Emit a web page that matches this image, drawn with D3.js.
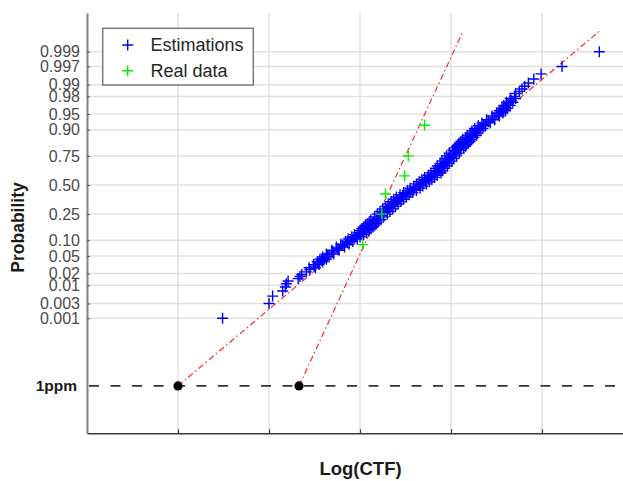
<!DOCTYPE html>
<html lang="en">
<head>
    <meta charset="UTF-8">
    <title>Normal probability plot</title>
    <style>
        body { margin: 0; background: #fff; }
        svg { display: block; font-family: "Liberation Sans", Arial, sans-serif; }

        .grid line { stroke: #e0e0e0; stroke-width: 1.5; }
        .grid-x line { stroke: #dadada; stroke-width: 1.2; }

        .axis-y path { stroke: #808080; stroke-width: 2; }
        .axis-y line { stroke: #555; }
        .axis-y text { fill: #4a4a4a; font-size: 16px; }
        .axis-x path { stroke: #3a3a3a; stroke-width: 1.5; }
        .axis-x line { stroke: #3a3a3a; stroke-width: 1.2; }

        .ppm { stroke: #333; stroke-width: 1.6; stroke-dasharray: 10 11.5; }
        .fit { fill: none; stroke: #ff2a2a; stroke-width: 1.2; stroke-dasharray: 6 3 1.5 3; }
        .plus { fill: none; stroke-width: 1.4; }
        .label { font-weight: bold; fill: #1a1a1a; }
    </style>
</head>
<body>
    <svg></svg>
<script src="https://d3js.org/d3.v7.min.js"></script>
<script>
    // estimations: log(CTF) values and their plotting probabilities (band centre and tails)
    var estLogCtf = [1.49, 2.00, 2.04, 2.15, 2.18, 2.19, 2.21, 2.32, 2.34, 2.36,
        2.41, 2.45, 2.50, 2.54, 2.58, 2.61, 2.64, 2.70, 2.76, 2.81,
        2.86, 2.90, 2.94, 2.97, 3.01, 3.04, 3.06, 3.08, 3.10, 3.12,
        3.14, 3.16, 3.19, 3.23, 3.26, 3.29, 3.32, 3.35, 3.38, 3.41,
        3.44, 3.47, 3.51, 3.55, 3.59, 3.62, 3.66, 3.69, 3.72, 3.75,
        3.78, 3.82, 3.85, 3.87, 3.89, 3.92, 3.94, 3.97, 3.99, 4.02,
        4.05, 4.08, 4.10, 4.12, 4.13, 4.15, 4.17, 4.19, 4.22, 4.24,
        4.26, 4.29, 4.32, 4.36, 4.41, 4.46, 4.52, 4.55, 4.58, 4.60,
        4.63, 4.66, 4.70, 4.71, 4.75, 4.78, 4.81, 4.85, 4.91, 4.99,
        5.22, 5.63];
    var estProb = [0.001, 0.003, 0.005, 0.007, 0.009, 0.011, 0.013, 0.015, 0.017, 0.019,
        0.022, 0.025, 0.03, 0.035, 0.04, 0.045, 0.05, 0.06, 0.07, 0.08,
        0.09, 0.10, 0.11, 0.12, 0.13, 0.14, 0.15, 0.16, 0.17, 0.18,
        0.19, 0.20, 0.22, 0.24, 0.26, 0.28, 0.30, 0.32, 0.34, 0.36,
        0.38, 0.40, 0.42, 0.44, 0.46, 0.48, 0.50, 0.52, 0.54, 0.56,
        0.58, 0.60, 0.62, 0.64, 0.66, 0.68, 0.70, 0.72, 0.74, 0.76,
        0.78, 0.80, 0.81, 0.82, 0.83, 0.84, 0.85, 0.86, 0.87, 0.88,
        0.89, 0.90, 0.91, 0.92, 0.93, 0.94, 0.95, 0.955, 0.96, 0.965,
        0.97, 0.975, 0.98, 0.983, 0.985, 0.987, 0.989, 0.991, 0.993, 0.995,
        0.997, 0.999];

    // estimations read along the left and right edges of the dense band
    var estEdgeProb = [0.0275, 0.0325, 0.0375, 0.0425, 0.0475, 0.055, 0.065, 0.075, 0.085, 0.095,
        0.105, 0.115, 0.125, 0.135, 0.145, 0.155, 0.165, 0.175, 0.185, 0.195,
        0.21, 0.23, 0.25, 0.27, 0.29, 0.31, 0.33, 0.35, 0.37, 0.39,
        0.41, 0.43, 0.45, 0.47, 0.49, 0.51, 0.53, 0.55, 0.57, 0.59,
        0.61, 0.63, 0.65, 0.67, 0.69, 0.71, 0.73, 0.75, 0.77, 0.79,
        0.805, 0.815, 0.825, 0.835, 0.845, 0.855, 0.865, 0.875, 0.885, 0.895,
        0.905, 0.915, 0.925, 0.935, 0.945, 0.9525, 0.9575, 0.9625, 0.9675, 0.9725,
        0.9775];
    var estEdgeLeft = [2.44, 2.49, 2.53, 2.56, 2.59, 2.63, 2.69, 2.74, 2.79, 2.84,
        2.87, 2.91, 2.94, 2.98, 3.00, 3.02, 3.04, 3.06, 3.08, 3.10,
        3.12, 3.16, 3.19, 3.22, 3.25, 3.28, 3.31, 3.34, 3.37, 3.40,
        3.44, 3.48, 3.52, 3.55, 3.59, 3.62, 3.65, 3.68, 3.71, 3.75,
        3.78, 3.81, 3.83, 3.85, 3.88, 3.90, 3.93, 3.95, 3.98, 4.02,
        4.04, 4.06, 4.08, 4.09, 4.11, 4.13, 4.16, 4.18, 4.21, 4.23,
        4.26, 4.30, 4.34, 4.39, 4.45, 4.50, 4.53, 4.56, 4.58, 4.61,
        4.65];
    var estEdgeRight = [2.51, 2.55, 2.59, 2.63, 2.66, 2.71, 2.77, 2.83, 2.88, 2.92,
        2.97, 3.00, 3.04, 3.07, 3.10, 3.12, 3.14, 3.16, 3.18, 3.20,
        3.23, 3.26, 3.30, 3.33, 3.36, 3.39, 3.42, 3.45, 3.48, 3.51,
        3.54, 3.58, 3.62, 3.66, 3.69, 3.73, 3.76, 3.79, 3.82, 3.85,
        3.89, 3.91, 3.93, 3.96, 3.98, 4.01, 4.03, 4.06, 4.09, 4.11,
        4.14, 4.16, 4.17, 4.19, 4.21, 4.23, 4.25, 4.28, 4.29, 4.32,
        4.35, 4.38, 4.43, 4.48, 4.53, 4.57, 4.60, 4.62, 4.65, 4.68,
        4.71];

    // real data
    var realLogCtf = [3.03, 3.24, 3.28, 3.49, 3.53, 3.71];
    var realProb = [0.0833, 0.25, 0.4167, 0.5833, 0.75, 0.9167];

    // the 1ppm reference level (as it sits on the drawn axis)
    var ppmProb = 1.6e-6;

    // fitted lines, from the 1ppm crossing to the top of the plot
    var fitEstLogCtf = [1.00, 5.64];
    var fitEstProb = [ppmProb, 0.99983];
    var fitRealLogCtf = [2.33, 4.13];
    var fitRealProb = [ppmProb, 0.99981];

    var yTickProb = [0.001, 0.003, 0.01, 0.02, 0.05, 0.10, 0.25, 0.50, 0.75, 0.90, 0.95, 0.98, 0.99, 0.997, 0.999];
    var yTickLabels = ["0.001", "0.003", "0.01", "0.02", "0.05", "0.10", "0.25", "0.50", "0.75", "0.90", "0.95", "0.98", "0.99", "0.997", "0.999"];
    var xTicks = [1, 2, 3, 4, 5];

    // inverse of the standard normal CDF (Acklam)
    function probit(p) {
        var a = [-3.969683028665376e+01, 2.209460984245205e+02, -2.759285104469687e+02, 1.383577518672690e+02, -3.066479806614716e+01, 2.506628277459239e+00];
        var b = [-5.447609879822406e+01, 1.615858368580409e+02, -1.556989798598866e+02, 6.680131188771972e+01, -1.328068155288572e+01];
        var c = [-7.784894002430293e-03, -3.223964580411365e-01, -2.400758277161838e+00, -2.549671010336066e+00, 4.374664141464968e+00, 2.938163982698783e+00];
        var d = [7.784695709041462e-03, 3.224671290700398e-01, 2.445134137142996e+00, 3.754408661907416e+00];
        var plow = 0.02425, q, r;
        if (p < plow) {
            q = Math.sqrt(-2 * Math.log(p));
            return (((((c[0]*q+c[1])*q+c[2])*q+c[3])*q+c[4])*q+c[5]) / ((((d[0]*q+d[1])*q+d[2])*q+d[3])*q+1);
        }
        if (p > 1 - plow) {
            q = Math.sqrt(-2 * Math.log(1 - p));
            return -(((((c[0]*q+c[1])*q+c[2])*q+c[3])*q+c[4])*q+c[5]) / ((((d[0]*q+d[1])*q+d[2])*q+d[3])*q+1);
        }
        q = p - 0.5; r = q * q;
        return (((((a[0]*r+a[1])*r+a[2])*r+a[3])*r+a[4])*r+a[5])*q / (((((b[0]*r+b[1])*r+b[2])*r+b[3])*r+b[4])*r+1);
    }

    var width = 623, height = 481;
    var plotLeft = 87, plotRight = 623, plotTop = 13, plotBottom = 433.3;

    var svg = d3.select("svg").attr("width", width).attr("height", height);

    var x = d3.scaleLinear().domain([0, 5.89]).range([plotLeft, plotRight]);
    var yz = d3.scaleLinear().domain([-5.756, 3.987]).range([plotBottom, plotTop]);
    var y = function(p) { return yz(probit(p)); };

    // grid
    svg.append("g").attr("class", "grid grid-x")
        .selectAll("line").data(xTicks).enter().append("line")
        .attr("x1", x).attr("x2", x).attr("y1", plotTop).attr("y2", plotBottom);
    svg.append("g").attr("class", "grid")
        .selectAll("line").data(yTickProb).enter().append("line")
        .attr("x1", plotLeft).attr("x2", plotRight).attr("y1", y).attr("y2", y);

    // 1ppm level
    svg.append("line").attr("class", "ppm")
        .attr("x1", plotLeft + 2).attr("x2", plotRight)
        .attr("y1", y(ppmProb)).attr("y2", y(ppmProb));
    svg.append("text").attr("class", "label")
        .attr("x", 77).attr("y", y(ppmProb)).attr("dy", "0.35em")
        .attr("text-anchor", "end").style("font-size", "15.5px")
        .text("1ppm");

    // axes
    svg.append("g").attr("class", "axis-x")
        .attr("transform", "translate(0," + plotBottom + ")")
        .call(d3.axisBottom(x).tickValues(xTicks).tickSize(-4).tickSizeOuter(0).tickFormat(""));
    svg.append("g").attr("class", "axis-y")
        .attr("transform", "translate(" + plotLeft + ",0)")
        .call(d3.axisLeft(yz).tickValues(yTickProb.map(probit)).tickSize(-3).tickSizeOuter(0)
            .tickPadding(7).tickFormat(function(d, i) { return yTickLabels[i]; }));

    // fitted lines (under the markers)
    var line = d3.line().x(function(d) { return x(d[0]); }).y(function(d) { return y(d[1]); });
    svg.append("path").attr("class", "fit").attr("d", line(d3.zip(fitEstLogCtf, fitEstProb)));
    svg.append("path").attr("class", "fit").attr("d", line(d3.zip(fitRealLogCtf, fitRealProb)));

    var plus = "M-5.5,0H5.5M0,-5.5V5.5";

    // estimations
    var estPoints = d3.zip(estLogCtf, estProb)
        .concat(d3.zip(estEdgeLeft, estEdgeProb))
        .concat(d3.zip(estEdgeRight, estEdgeProb));
    svg.append("g").selectAll("path").data(estPoints).enter().append("path")
        .attr("class", "plus").attr("stroke", "#0000ff").attr("d", plus)
        .attr("transform", function(d) { return "translate(" + x(d[0]) + "," + y(d[1]) + ")"; });

    // real data
    svg.append("g").selectAll("path").data(d3.zip(realLogCtf, realProb)).enter().append("path")
        .attr("class", "plus").attr("stroke", "#00ee00").attr("d", plus)
        .attr("transform", function(d) { return "translate(" + x(d[0]) + "," + y(d[1]) + ")"; });

    // 1ppm crossings
    svg.append("g").selectAll("circle").data([fitEstLogCtf[0], fitRealLogCtf[0]]).enter().append("circle")
        .attr("cx", x).attr("cy", y(ppmProb)).attr("r", 4.6).attr("fill", "#000");

    // axis titles
    svg.append("text").attr("class", "label")
        .attr("transform", "translate(24,227.5) rotate(-90)")
        .attr("text-anchor", "middle").style("font-size", "17.5px")
        .text("Probability");
    svg.append("text").attr("class", "label")
        .attr("x", 360.5).attr("y", 475)
        .attr("text-anchor", "middle").style("font-size", "18.5px")
        .text("Log(CTF)");

    // legend
    var lg = svg.append("g");
    lg.append("rect").attr("x", 102.7).attr("y", 28.3).attr("width", 150.6).attr("height", 56.7)
        .attr("fill", "#fff").attr("stroke", "#7a7a7a").attr("stroke-width", 1.5);
    var legendItems = [["Estimations", "#0000ff", 45], ["Real data", "#00ee00", 70.7]];
    legendItems.forEach(function(it) {
        lg.append("path").attr("class", "plus").attr("stroke", it[1]).attr("d", plus)
            .attr("transform", "translate(127.7," + it[2] + ")");
        lg.append("text").attr("x", 150.5).attr("y", it[2]).attr("dy", "0.36em")
            .style("font-size", "18px").attr("fill", "#262626").text(it[0]);
    });
</script>
</body>
</html>
